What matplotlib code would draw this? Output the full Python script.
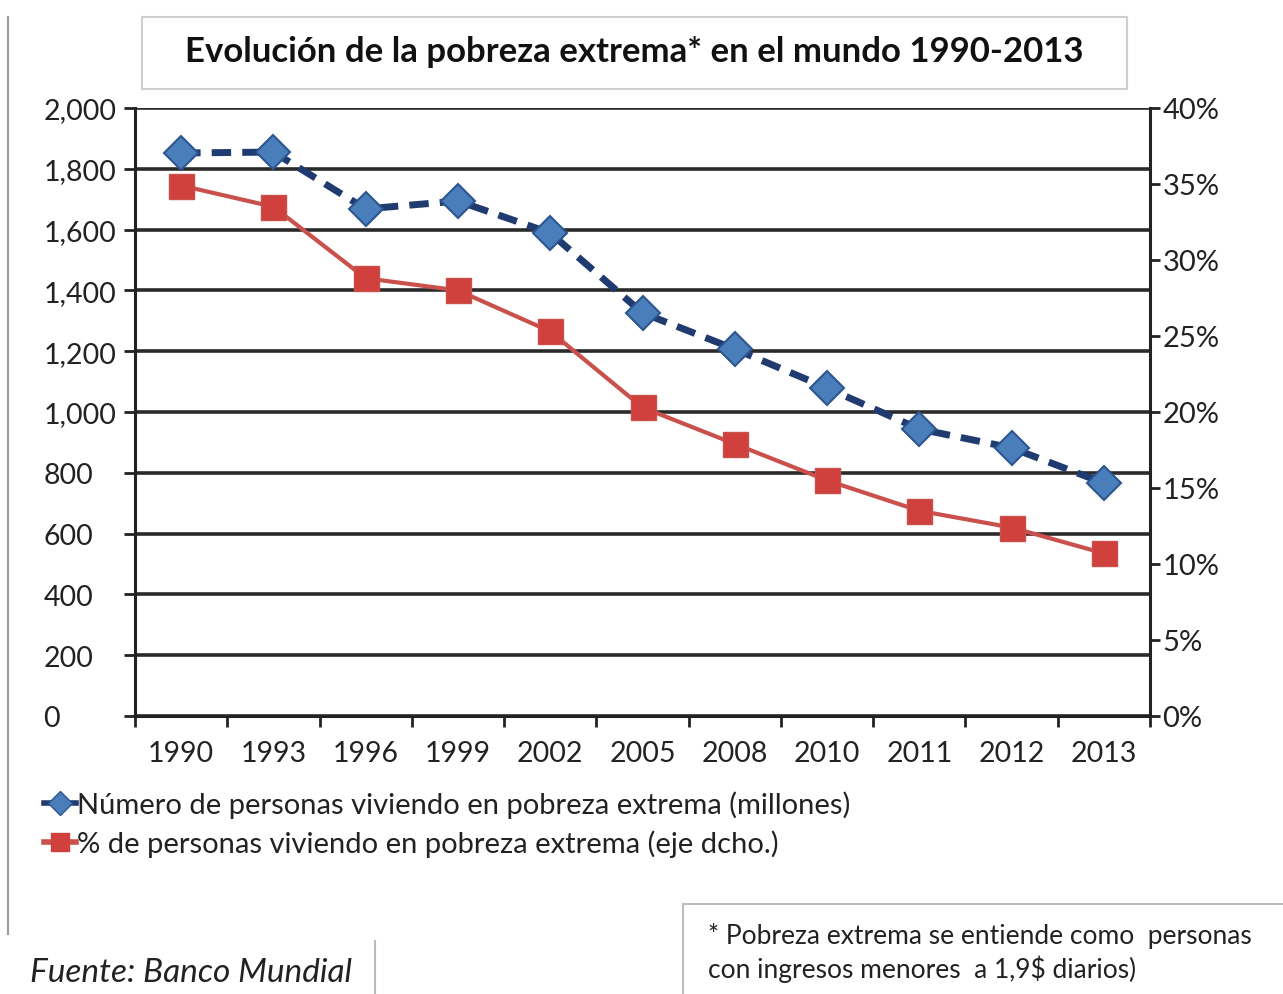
import numpy as np
import matplotlib
matplotlib.use('Agg')
import matplotlib.pyplot as plt
from matplotlib.patches import Rectangle
from matplotlib.lines import Line2D
from matplotlib.ticker import FuncFormatter

plt.rcParams['font.family'] = ['Lato', 'DejaVu Sans']

# datos
anios = ['1990', '1993', '1996', '1999', '2002', '2005', '2008', '2010', '2011', '2012', '2013']
personas = [1852, 1855, 1668, 1694, 1589, 1326, 1207, 1079, 944, 882, 766]   # millones
porcentaje = [34.9, 33.5, 28.8, 28.0, 25.3, 20.3, 17.9, 15.5, 13.5, 12.4, 10.7]  # %

titulo = 'Evolución de la pobreza extrema* en el mundo 1990-2013'
lab_personas = 'Número de personas viviendo en pobreza extrema (millones)'
lab_pct = '% de personas viviendo en pobreza extrema (eje dcho.)'
nota = '* Pobreza extrema se entiende como  personas\ncon ingresos menores  a 1,9$ diarios)'
fuente = 'Fuente: Banco Mundial'

W, H = 1283, 995
fig = plt.figure(figsize=(W / 100, H / 100), dpi=100)

def px(x0, y0, x1, y1):
    # rect in pixel coords (top-left origin) -> figure fraction
    return [x0 / W, 1 - y1 / H, (x1 - x0) / W, (y1 - y0) / H]

ax = fig.add_axes(px(135, 109, 1150, 717))
x = np.arange(len(anios))

ax.set_xlim(-0.5, len(anios) - 0.5)
ax.set_ylim(0, 2000)
ax.set_yticks(range(0, 2001, 200))
ax.yaxis.set_major_formatter(FuncFormatter(lambda v, p: f'{int(v):,}'))
ax.grid(axis='y', color='#2a2a2a', lw=2.6)
ax.set_axisbelow(True)

ax.set_xticks(x)
ax.set_xticklabels(anios)
ax.set_xticks(np.arange(-0.5, len(anios), 1), minor=True)
ax.tick_params(axis='x', which='major', length=0, pad=17, labelsize=20.5, labelcolor='#222222')
ax.tick_params(axis='x', which='minor', length=8, width=2, color='#222222', direction='out')
ax.tick_params(axis='y', length=8, width=2, color='#222222', pad=58, labelsize=20.5, labelcolor='#222222')
for t in ax.get_yticklabels():
    t.set_horizontalalignment('left')

for s in ['top', 'right']:
    ax.spines[s].set_visible(False)
ax.spines['left'].set_linewidth(2.2)
ax.spines['bottom'].set_linewidth(2.2)
ax.spines['left'].set_color('#222222')
ax.spines['bottom'].set_color('#222222')

ax2 = ax.twinx()
ax2.set_ylim(0, 40)
ax2.set_yticks(range(0, 41, 5))
ax2.yaxis.set_major_formatter(FuncFormatter(lambda v, p: f'{int(v)}%'))
ax2.tick_params(axis='y', length=7, width=2, color='#222222', pad=2, labelsize=21, labelcolor='#222222')
for s in ['top', 'left', 'bottom']:
    ax2.spines[s].set_visible(False)
ax2.spines['right'].set_linewidth(2.2)
ax2.spines['right'].set_color('#222222')

# lineas
l1, = ax2.plot(x, np.array(personas) / 50.0, color='#1f3b70', lw=5, ls=(0, (2.8, 1.6)),
               marker='D', ms=17, mfc='#4a7ebb', mec='#2d5590', mew=1.5, zorder=4)
l2, = ax2.plot(x, porcentaje, color='#c9504b', lw=3, marker='s', ms=18,
               mfc='#d0403d', mec='#c9504b', zorder=3)

h1 = Line2D([], [], color='#1f3b70', lw=4, marker='D', ms=12, mfc='#4a7ebb', mec='#2d5590')
h2 = Line2D([], [], color='#c9504b', lw=4, marker='s', ms=13, mfc='#d0403d', mec='#d0403d')
fig.legend([h1, h2], [lab_personas, lab_pct], loc='upper left',
           bbox_to_anchor=(32 / W, 1 - 780 / H), frameon=False, fontsize=21,
           handlelength=1.1, handletextpad=0.05, labelspacing=0.38, borderaxespad=0,
           labelcolor='#222222')

# caja del titulo
fig.patches.append(Rectangle(px(142, 18, 1127, 90)[:2], (1127 - 142) / W, (90 - 18) / H,
                             transform=fig.transFigure, fill=False, ec='#cfcfcf', lw=1.5))
fig.text(634 / W, 1 - 52 / H, titulo, ha='center', va='center', fontsize=25,
         fontweight='bold', color='#111111')

# marcos
fig.add_artist(Line2D([8 / W, 8 / W], [1 - 18 / H, 1 - 935 / H], color='#9a9a9a', lw=1.5))
fig.add_artist(Line2D([375 / W, 375 / W], [1 - 942 / H, 0], color='#bbbbbb', lw=1.5))
fig.patches.append(Rectangle(px(683, 905, 1290, 1000)[:2], (1290 - 683) / W, (1000 - 905) / H,
                             transform=fig.transFigure, fill=False, ec='#bdbdbd', lw=1.5))

fig.text(708 / W, 1 - 953 / H, nota, ha='left', va='center', fontsize=19,
         color='#222222', linespacing=1.3)
fig.text(30 / W, 1 - 973 / H, fuente, ha='left', va='center', fontsize=24,
         style='italic', color='#222222')

fig.savefig('out.png', dpi=100)
